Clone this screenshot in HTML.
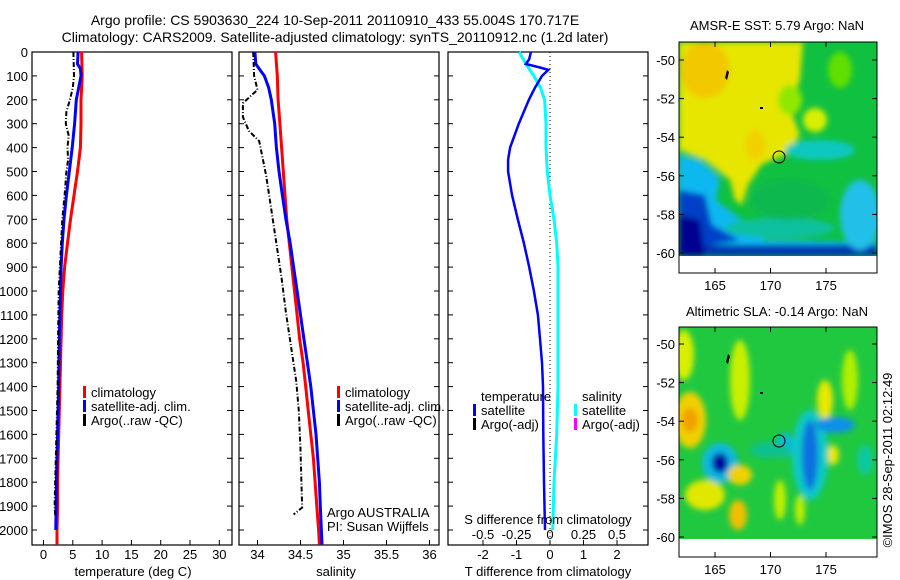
<!DOCTYPE html>
<html><head><meta charset="utf-8"><style>
body{margin:0;background:#fff}
svg{display:block;font-family:"Liberation Sans",sans-serif}
text{fill:#000}
</style></head><body>
<svg id="s" width="900" height="580" viewBox="0 0 900 580" xmlns="http://www.w3.org/2000/svg">
<defs>
<filter id="bl" x="-10%" y="-10%" width="120%" height="120%"><feGaussianBlur stdDeviation="3"/></filter>
<clipPath id="c1"><rect x="679" y="42" width="198" height="214"/></clipPath>
<clipPath id="c2"><rect x="679" y="327" width="198" height="212"/></clipPath>
</defs>
<text x="335" y="25" font-size="14" text-anchor="middle">Argo profile: CS 5903630_224 10-Sep-2011 20110910_433 55.004S 170.717E</text>
<text x="335" y="42" font-size="14" text-anchor="middle">Climatology: CARS2009. Satellite-adjusted climatology: synTS_20110912.nc (1.2d later)</text>

<!-- SST map -->
<g clip-path="url(#c1)">
<rect x="679" y="42" width="198" height="214" fill="#10c040"/>
<g filter="url(#bl)">
<polygon points="679,42 803,42 800,80 790,108 800,135 785,155 762,164 748,185 742,205 735,200 730,180 705,160 679,150" fill="#e6e600"/>
<ellipse cx="705" cy="70" rx="25" ry="28" fill="#f2c800"/>
<ellipse cx="755" cy="145" rx="10" ry="15" fill="#f2d000"/>
<ellipse cx="815" cy="120" rx="12" ry="12" fill="#d8f000"/>
<ellipse cx="790" cy="100" rx="12" ry="15" fill="#90e800"/>
<ellipse cx="840" cy="70" rx="12" ry="18" fill="#60e000"/>
<polygon points="679,155 700,160 720,178 716,200 745,222 765,240 877,242 877,256 679,256" fill="#10b8f0"/>
<polygon points="679,190 705,195 712,225 740,240 679,250" fill="#0040c8"/>
<rect x="679" y="245" width="198" height="11" fill="#0030b0"/>
<polygon points="679,215 700,220 705,256 679,256" fill="#000090"/>
<ellipse cx="860" cy="215" rx="20" ry="35" fill="#20c0e8"/>
<ellipse cx="820" cy="150" rx="35" ry="10" fill="#10c8c0"/>
<ellipse cx="780" cy="228" rx="55" ry="10" fill="#10c0a0"/>
<ellipse cx="790" cy="200" rx="40" ry="20" fill="#10b850"/>
</g>
<path d="M725,78 l2,-8 l2,2 l-2,8z" fill="#000"/>
<rect x="760" y="107" width="3" height="2" fill="#000"/>
</g>
<rect x="679" y="256" width="198" height="17" fill="#fff"/>
<rect x="679" y="42" width="198" height="231" fill="none" stroke="#000"/>
<circle cx="779" cy="157" r="6" fill="none" stroke="#000"/>
<text x="777" y="30" font-size="13" text-anchor="middle">AMSR-E SST: 5.79 Argo: NaN</text>

<!-- SLA map -->
<g clip-path="url(#c2)">
<rect x="679" y="327" width="198" height="212" fill="#20c840"/>
<g filter="url(#bl)">
<ellipse cx="684" cy="355" rx="10" ry="25" fill="#d8f000"/>
<ellipse cx="690" cy="420" rx="16" ry="28" fill="#f0d000"/>
<ellipse cx="690" cy="420" rx="8" ry="12" fill="#f0a000"/>
<ellipse cx="740" cy="380" rx="10" ry="40" fill="#c8f000"/>
<ellipse cx="720" cy="463" rx="18" ry="20" fill="#10b8e0"/>
<ellipse cx="720" cy="463" rx="8" ry="10" fill="#0000a0"/>
<ellipse cx="740" cy="475" rx="12" ry="10" fill="#f0d000"/>
<ellipse cx="705" cy="495" rx="20" ry="15" fill="#e0e800"/>
<ellipse cx="738" cy="515" rx="9" ry="15" fill="#f0c000"/>
<ellipse cx="825" cy="400" rx="8" ry="20" fill="#e8e800"/>
<ellipse cx="833" cy="455" rx="6" ry="10" fill="#e8e800"/>
<ellipse cx="810" cy="455" rx="18" ry="45" fill="#10c8c8"/>
<ellipse cx="810" cy="455" rx="8" ry="35" fill="#1070e0"/>
<ellipse cx="835" cy="425" rx="20" ry="8" fill="#1090e8"/>
<ellipse cx="785" cy="445" rx="8" ry="12" fill="#10b8e0"/>
<ellipse cx="850" cy="380" rx="8" ry="30" fill="#b0f000"/>
<ellipse cx="780" cy="500" rx="6" ry="20" fill="#c0f000"/>
<ellipse cx="800" cy="510" rx="5" ry="15" fill="#c0f000"/>
<ellipse cx="865" cy="460" rx="8" ry="15" fill="#10c8a0"/>
<ellipse cx="770" cy="450" rx="20" ry="8" fill="#10c090"/>
</g>
<path d="M726,362 l2,-8 l2,2 l-2,8z" fill="#000"/>
<rect x="760" y="392" width="3" height="2" fill="#000"/>
</g>
<rect x="679" y="539" width="198" height="18" fill="#fff"/>
<rect x="679" y="327" width="198" height="230" fill="none" stroke="#000"/>
<circle cx="779" cy="441" r="6" fill="none" stroke="#000"/>
<text x="777" y="316" font-size="13" text-anchor="middle">Altimetric SLA: -0.14 Argo: NaN</text>
<text transform="translate(892,460) rotate(-90)" font-size="13" text-anchor="middle">©IMOS 28-Sep-2011 02:12:49</text>
<g id="maxes"></g>
<g id="plots"></g>
</svg>
<script>
// ---- data ----
const tempClimDepth=[0,100,200,300,400,500,600,700,800,900,1000,1100,1200,1300,1400,1500,1600,1700,1800,1900,2000,2060];
const tempClim=[6.5,6.6,6.4,6.4,6.3,5.8,5.2,4.6,4.1,3.6,3.3,3.1,3.0,2.9,2.8,2.7,2.6,2.5,2.4,2.4,2.3,2.3];
const tempSatDepth=[0,50,70,100,200,300,400,500,600,700,800,900,1000,1200,1400,1600,1800,2000];
const tempSat=[5.9,5.8,6.3,6.4,5.6,5.3,4.9,4.4,3.9,3.5,3.2,3.0,2.9,2.7,2.6,2.4,2.2,2.1];
const tempArgoDepth=[0,100,150,200,250,300,350,400,450,500,600,700,800,900,1000,1200,1400,1600,1800,1900,1940];
const tempArgo=[5.1,5.2,5.0,4.5,3.9,3.8,4.3,4.1,4.2,3.9,3.6,3.2,3.0,2.8,2.6,2.5,2.4,2.2,2.0,1.9,2.0];
const salClimDepth=[0,100,200,300,400,500,600,700,800,900,1000,1100,1200,1300,1400,1500,1600,1700,1800,1900,2000,2060];
const salClim=[34.21,34.23,34.24,34.26,34.28,34.3,34.32,34.34,34.37,34.4,34.43,34.46,34.49,34.53,34.56,34.59,34.62,34.65,34.67,34.69,34.71,34.72];
const salSatDepth=[0,50,70,100,150,200,300,400,500,600,700,800,900,1000,1100,1200,1300,1400,1500,1600,1700,1800,1900,2060];
const salSat=[33.97,33.98,34.02,34.08,34.13,34.16,34.2,34.22,34.25,34.29,34.33,34.38,34.42,34.46,34.5,34.54,34.58,34.62,34.65,34.68,34.7,34.72,34.73,34.75];
const salArgoDepth=[0,100,158,214,272,330,373,516,659,802,946,1089,1232,1376,1500,1662,1800,1906,1935];
const salArgo=[33.95,33.96,34.0,33.83,33.83,33.9,34.02,34.1,34.16,34.22,34.28,34.33,34.39,34.45,34.48,34.5,34.51,34.52,34.42];
const dTDepth=[0,30,50,65,75,100,150,200,300,400,450,500,600,700,800,900,1000,1100,1200,1300,1400,1600,1800,2000];
const dTSat=[-0.57,-0.62,-0.72,-0.3,-0.05,-0.24,-0.45,-0.63,-0.93,-1.19,-1.25,-1.25,-1.13,-0.96,-0.78,-0.62,-0.48,-0.36,-0.3,-0.24,-0.21,-0.2,-0.18,-0.15];
const dSDepth=[0,50,100,150,200,300,400,500,600,700,800,900,1000,1200,1400,1600,1800,2000];
const dSSat=[-0.23,-0.18,-0.12,-0.07,-0.04,-0.03,-0.03,-0.02,0,0.03,0.05,0.06,0.06,0.06,0.06,0.05,0.03,0.02];
const depthTicks=[0,100,200,300,400,500,600,700,800,900,1000,1100,1200,1300,1400,1500,1600,1700,1800,1900,2000];
const tempTicks=[0,5,10,15,20,25,30];
const salTicks=[34,34.5,35,35.5,36];
const dTTicks=[-2,-1,0,1,2];
const dSTicks=[-0.5,-0.25,0,0.25,0.5];
const latTicks=[50,52,54,56,58,60];
const lonTicks=[165,170,175];

const NS='http://www.w3.org/2000/svg';
const root=document.getElementById('plots');
const PT=45,PB=545;
const yD=d=>52+d*0.239;
const xT=t=>43.5+t*5.86;
const xS=s=>257.5+(s-34)*86;
const xdT=v=>550+v*33.5;
const xdS=v=>550+v*134;
function mk(tag,attrs,parent){const e=document.createElementNS(NS,tag);for(const k in attrs)e.setAttribute(k,attrs[k]);(parent||root).appendChild(e);return e;}
function txt(x,y,s,size,anchor,parent){const e=mk('text',{x:x,y:y,'font-size':size,'text-anchor':anchor||'middle'},parent);e.textContent=s;return e;}
function line(depths,vals,fx,color,w,dash,name){
  const pts=depths.map((d,i)=>fx(vals[i]).toFixed(1)+','+yD(d).toFixed(1)).join(' ');
  const p=mk('polyline',{points:pts,fill:'none',stroke:color,'stroke-width':w});
  if(dash)p.setAttribute('stroke-dasharray',dash);
  
  
}
function frame(x0,x1,name){
  const r=mk('rect',{x:x0,y:PT+7,width:x1-x0,height:PB-PT-7,fill:'none',stroke:'#000','stroke-width':1.2});
  
  
  depthTicks.forEach(d=>{mk('line',{x1:x0,x2:x0+5,y1:yD(d),y2:yD(d),stroke:'#000'});mk('line',{x1:x1-5,x2:x1,y1:yD(d),y2:yD(d),stroke:'#000'});});
}
// panel 1
frame(32,232,'temperature-panel-frame');
depthTicks.forEach(d=>{const t=txt(28,yD(d)+5,String(d),13,'end');});
tempTicks.forEach(v=>{mk('line',{x1:xT(v),x2:xT(v),y1:PB,y2:PB-5,stroke:'#000'});const t=txt(xT(v),559,String(v),13);});
let a=txt(133,576,'temperature (deg C)',13);
line(tempClimDepth,tempClim,xT,'#ff0000',3,null,'temperature-climatology-line');
line(tempSatDepth,tempSat,xT,'#0000ff',3,null,'temperature-satellite-line');
line(tempArgoDepth,tempArgo,xT,'#000',2,'5,2,1,2','temperature-argo-line');
function legend(x,y,items,name){
  const g=mk('g',{});
  
  
  items.forEach((it,i)=>{mk('rect',{x:x,y:y+i*14-6,width:3,height:12,fill:it[1]},g);txt(x+8,y+i*14+5,it[0],13,'start',g);});
}
legend(83,392,[['climatology','#ff0000'],['satellite-adj. clim.','#0000ff'],['Argo(..raw -QC)','#000']],'temperature-legend');
// panel 2
frame(239,439,'salinity-panel-frame');
salTicks.forEach(v=>{mk('line',{x1:xS(v),x2:xS(v),y1:PB,y2:PB-5,stroke:'#000'});const t=txt(xS(v),559,String(v),13);});
a=txt(336,576,'salinity',13);
line(salClimDepth,salClim,xS,'#ff0000',3,null,'salinity-climatology-line');
line(salSatDepth,salSat,xS,'#0000ff',3,null,'salinity-satellite-line');
line(salArgoDepth,salArgo,xS,'#000',2,'5,2,1,2','salinity-argo-line');
legend(337,392,[['climatology','#ff0000'],['satellite-adj. clim.','#0000ff'],['Argo(..raw -QC)','#000']],'salinity-legend');
a=txt(327,517,'Argo AUSTRALIA',13,'start');
a=txt(327,531,'PI: Susan Wijffels',13,'start');
// panel 3
frame(448,648,'difference-panel-frame');
mk('line',{x1:550,x2:550,y1:PT+7,y2:PB,stroke:'#000','stroke-dasharray':'1,3'});
dTTicks.forEach(v=>{mk('line',{x1:xdT(v),x2:xdT(v),y1:PB,y2:PB-5,stroke:'#000'});const t=txt(xdT(v),559,String(v),13);});
a=txt(548,576,'T difference from climatology',13);
line(dSDepth,dSSat,xdS,'#00ffff',3,null,'salinity-difference-line');
line(dTDepth,dTSat,xdT,'#0000ff',2.5,null,'temperature-difference-line');
dSTicks.forEach(v=>{const t=txt(xdS(v),539,String(v),13);});
a=txt(548,524,'S difference from climatology',13);
a=txt(481,401,'temperature',13,'start');
a=txt(582,401,'salinity',13,'start');
legend(473,410,[['satellite','#0000ff'],['Argo(-adj)','#000']],'temperature-difference-legend');
legend(574,410,[['satellite','#00ffff'],['Argo(-adj)','#ff00ff']],'salinity-difference-legend');
// map axes
const mx=document.getElementById('maxes');
const lonX=l=>715+(l-165)*11.1;
[[60,42,273,285],[344,327,557,569]].forEach((m,k)=>{
  latTicks.forEach(s=>{const y=m[0]+(s-50)*19.3;mk('line',{x1:679,x2:684,y1:y,y2:y,stroke:'#000'},mx);mk('line',{x1:872,x2:877,y1:y,y2:y,stroke:'#000'},mx);const t=txt(675,y+5,'-'+s,13,'end',mx);});
  lonTicks.forEach(l=>{const x=lonX(l);mk('line',{x1:x,x2:x,y1:m[2],y2:m[2]-5,stroke:'#000'},mx);mk('line',{x1:x,x2:x,y1:m[1],y2:m[1]+5,stroke:'#000'},mx);const t=txt(x,m[3]+5,String(l),13,'middle',mx);});
});
</script>
</body></html>
